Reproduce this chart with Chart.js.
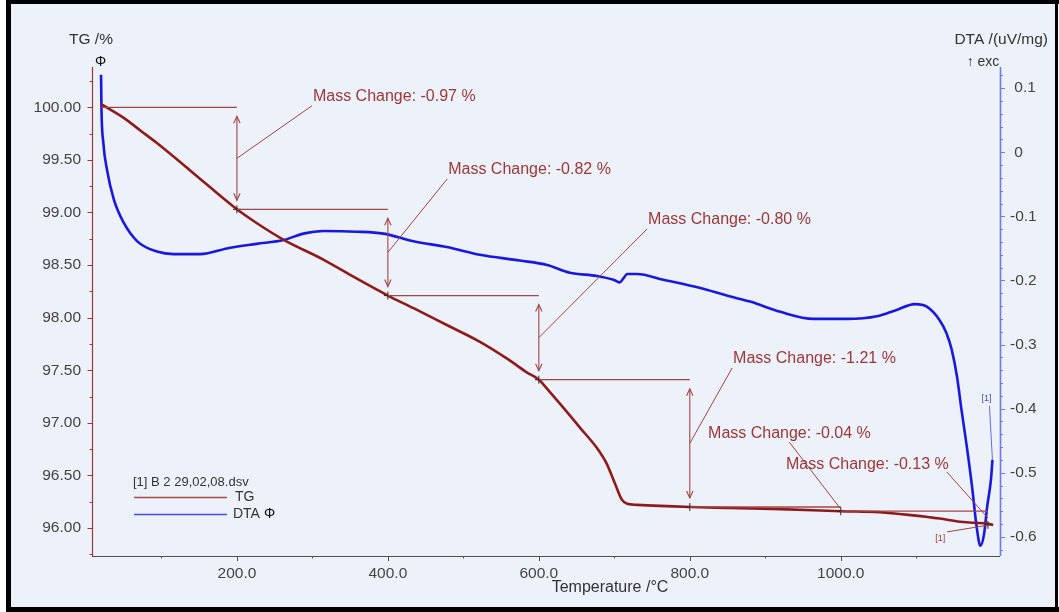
<!DOCTYPE html>
<html><head><meta charset="utf-8">
<script src="https://cdn.jsdelivr.net/npm/chart.js@4.4.1/dist/chart.umd.min.js"></script>
<style>html,body{margin:0;padding:0;background:#fff;overflow:hidden}</style>
</head><body>
<canvas id="c" width="1059" height="612"></canvas>
<script>
// ---- data ----
const tgTemps  = [20, 50, 72, 94, 138, 200, 226, 262, 315, 359, 400, 434, 478, 522, 558, 584, 600, 615, 633, 655, 677, 690, 701, 710, 717, 730, 800, 853, 920, 1000, 1052, 1096, 1131, 1158, 1176, 1195, 1202];
const tgValues = [100.03, 99.90, 99.78, 99.66, 99.40, 99.03, 98.90, 98.74, 98.55, 98.37, 98.21, 98.09, 97.93, 97.77, 97.61, 97.48, 97.41, 97.29, 97.14, 96.95, 96.76, 96.61, 96.42, 96.27, 96.23, 96.22, 96.20, 96.19, 96.18, 96.16, 96.15, 96.12, 96.09, 96.06, 96.05, 96.04, 96.03];

const dtaTemps  = [20, 20.5, 23, 28, 37, 50, 68, 94, 116, 151, 191, 226, 262, 288, 315, 359, 394, 434, 478, 522, 575, 611, 641, 677, 699, 707, 712, 717, 730, 765, 814, 850, 880, 920, 964, 1008, 1048, 1074, 1098, 1114, 1131, 1140, 1147, 1154, 1160, 1167, 1174, 1180, 1185, 1190, 1194, 1199, 1201];
const dtaValues = [0.121, 0.071, 0.015, -0.028, -0.074, -0.110, -0.139, -0.155, -0.159, -0.159, -0.149, -0.143, -0.137, -0.127, -0.123, -0.124, -0.127, -0.139, -0.148, -0.160, -0.169, -0.176, -0.188, -0.193, -0.199, -0.203, -0.197, -0.190, -0.190, -0.199, -0.212, -0.224, -0.233, -0.249, -0.260, -0.260, -0.256, -0.246, -0.237, -0.241, -0.262, -0.282, -0.308, -0.350, -0.402, -0.459, -0.522, -0.584, -0.614, -0.595, -0.553, -0.511, -0.480];

// tick values and labels
const xTickValues   = [200, 400, 600, 800, 1000];
const xTickLabels   = ['200.0', '400.0', '600.0', '800.0', '1000.0'];
const tgTickValues  = [96.0, 96.5, 97.0, 97.5, 98.0, 98.5, 99.0, 99.5, 100.0];
const tgTickLabels  = ['96.00', '96.50', '97.00', '97.50', '98.00', '98.50', '99.00', '99.50', '100.00'];
const dtaTickValues = [-0.6, -0.5, -0.4, -0.3, -0.2, -0.1, 0, 0.1];
const dtaTickLabels = ['-0.6', '-0.5', '-0.4', '-0.3', '-0.2', '-0.1', '0', '0.1'];

// mass-change steps (temperature of each evaluation point and TG level there)
const stepTemps   = [20, 200, 400, 600, 800, 1000, 1195];
const stepLevels  = [100.00, 99.03, 98.21, 97.41, 96.20, 96.16, 96.03];
const massChanges = ['-0.97', '-0.82', '-0.80', '-1.21', '-0.04', '-0.13'];
// label anchors in data coordinates (left edge temperature, TG level of text centre)
const labelTemps  = [300.7, 479.9, 744.8, 857.4, 824.2, 927.5];
const labelLevels = [100.10, 99.404, 98.929, 97.607, 96.901, 96.60];

const FONT = "'Liberation Sans', Arial, sans-serif";
const TG_COLOR = '#8e1b1b';
const DTA_COLOR = '#1818e0';
const ANN_COLOR = '#a14444';
const TEXT_RED = '#9a3838';

function line(ctx, x1, y1, x2, y2, color, w) {
  ctx.beginPath(); ctx.strokeStyle = color; ctx.lineWidth = w;
  ctx.moveTo(x1, y1); ctx.lineTo(x2, y2); ctx.stroke();
}
function arrowHead(ctx, x, y, dir, color) {
  ctx.beginPath(); ctx.strokeStyle = color; ctx.lineWidth = 1.1;
  ctx.moveTo(x - 3.2, y - dir * 7); ctx.lineTo(x, y); ctx.lineTo(x + 3.2, y - dir * 7); ctx.stroke();
}

const deco = {
  id: 'deco',
  beforeDraw(chart) {
    const ctx = chart.ctx, W = chart.width, H = chart.height;
    ctx.save();
    ctx.fillStyle = '#ffffff'; ctx.fillRect(0, 0, W, H);
    ctx.fillStyle = '#edf1fa'; ctx.fillRect(11, 4, 1044, 603);
    ctx.fillStyle = '#000000';
    ctx.fillRect(6, 0, W - 6, 4);
    ctx.fillRect(6, 0, 5, H);
    ctx.fillRect(6, 607, W - 6, 5);
    ctx.fillRect(1055, 0, 3, H);
    ctx.restore();
  },
  afterDatasetsDraw(chart) {
    const ctx = chart.ctx;
    const { left, right, top, bottom } = chart.chartArea;
    const xs = chart.scales.x, yl = chart.scales.yTG, yr = chart.scales.yDTA;
    ctx.save();
    // axes
    line(ctx, left, bottom + 0.5, right, bottom + 0.5, '#505050', 1.2);
    for (let v = 100; v < xs.max - 20; v += 100) {
      const px = Math.round(xs.getPixelForValue(v)) + 0.5;
      line(ctx, px, bottom, px, bottom + (v % 200 === 0 ? 5 : 2.5), '#505050', 1);
    }
    line(ctx, left + 0.5, top, left + 0.5, bottom, '#9a3b3b', 1.2);
    for (let k = Math.ceil(yl.min / 0.25); k * 0.25 <= yl.max + 1e-9; k++) {
      const py = Math.round(yl.getPixelForValue(k * 0.25)) + 0.5;
      line(ctx, left - (k % 2 === 0 ? 4.5 : 2.5), py, left, py, '#9a3b3b', 1);
    }
    line(ctx, right + 0.5, top, right + 0.5, bottom, '#7676e6', 1.6);
    for (let k = Math.ceil(yr.min / 0.02 - 1e-9); k * 0.02 <= yr.max + 1e-9; k++) {
      const py = Math.round(yr.getPixelForValue(k * 0.02)) + 0.5;
      line(ctx, right, py, right + (k % 5 === 0 ? 5 : 3), py, '#7676e6', 1);
    }

    // mass change annotations
    ctx.font = '16px ' + FONT;
    ctx.textBaseline = 'middle';
    ctx.textAlign = 'left';
    const anchorFrac = [0, 0, 0, 0, 0.5, 1];
    for (let i = 0; i < massChanges.length; i++) {
      const xa = xs.getPixelForValue(stepTemps[i]);
      const xb = xs.getPixelForValue(stepTemps[i + 1]);
      const ya = yl.getPixelForValue(stepLevels[i]);
      const yb = yl.getPixelForValue(stepLevels[i + 1]);
      line(ctx, xa, ya, xb, ya, ANN_COLOR, 1.3);
      if (yb - ya > 30) {
        line(ctx, xb, ya + 9, xb, yb - 9, ANN_COLOR, 1.1);
        arrowHead(ctx, xb, ya + 9, -1, ANN_COLOR);
        arrowHead(ctx, xb, yb - 9, 1, ANN_COLOR);
      }
      // cross marker
      line(ctx, xb - 4, yb, xb + 4, yb, '#3a2020', 1);
      line(ctx, xb, yb - 4, xb, yb + 4, '#3a2020', 1);
      const text = 'Mass Change: ' + massChanges[i] + ' %';
      const lx = xs.getPixelForValue(labelTemps[i]);
      const ly = yl.getPixelForValue(labelLevels[i]);
      const w = ctx.measureText(text).width;
      ctx.fillStyle = TEXT_RED;
      ctx.fillText(text, lx, ly);
      const f = anchorFrac[i];
      const ax = lx + f * w + (f === 0 ? -1 : (f === 1 ? -2 : 0));
      const ay = ly + (f === 1 ? 7 : 9);
      line(ctx, ax, ay, xb, (ya + yb) / 2, ANN_COLOR, 1);
    }
    // [1] labels at curve ends
    const tgEndX = xs.getPixelForValue(tgTemps[tgTemps.length - 1]);
    const tgEndY = yl.getPixelForValue(tgValues[tgValues.length - 1]);
    ctx.font = '9px ' + FONT;
    ctx.fillStyle = TEXT_RED;
    ctx.fillText('[1]', tgEndX - 58, tgEndY + 14);
    line(ctx, tgEndX - 46, tgEndY + 7, tgEndX - 3, tgEndY, ANN_COLOR, 1);
    const dEndX = xs.getPixelForValue(dtaTemps[dtaTemps.length - 1]);
    const dEndY = yr.getPixelForValue(dtaValues[dtaValues.length - 1]);
    ctx.fillStyle = '#4a4ad8';
    ctx.fillText('[1]', dEndX - 11, dEndY - 61);
    line(ctx, dEndX - 3, dEndY - 54, dEndX, dEndY, '#6a6ae0', 1);

    // axis titles
    ctx.fillStyle = '#333333';
    ctx.font = '15.5px ' + FONT;
    ctx.textAlign = 'center';
    ctx.fillText('TG /%', 91, 40);
    ctx.textAlign = 'right';
    ctx.fillText('DTA /(uV/mg)', 1048, 40);
    ctx.textAlign = 'center';
    ctx.font = '14px ' + FONT;
    ctx.fillText('\u2191 exc', 983, 62);
    ctx.font = '16px ' + FONT;
    ctx.fillText('Temperature /\u00B0C', 610, 588);
    ctx.font = '14px ' + FONT;
    ctx.fillStyle = '#111';
    ctx.fillText('\u03A6', 100.5, 62);

    // legend
    ctx.textAlign = 'left';
    ctx.fillStyle = '#333333';
    ctx.font = '13px ' + FONT;
    ctx.fillText('[1] B 2 29,02,08.dsv', 133, 482);
    line(ctx, 134, 497.5, 227, 497.5, '#b04a4a', 1.4);
    line(ctx, 134, 514.5, 227, 514.5, '#4b4bd8', 1.4);
    ctx.font = '14px ' + FONT;
    ctx.fillText('TG', 235, 497);
    ctx.fillText('DTA', 233, 514);
    ctx.fillStyle = '#111';
    ctx.fillText('\u03A6', 264, 514);
    ctx.restore();
  }
};

function pickTicks(values) {
  return function (scale) { scale.ticks = values.map(v => ({ value: v })); };
}
function labelFrom(values, labels, prefixNonNeg) {
  return function (v) {
    const i = values.findIndex(t => Math.abs(t - v) < 1e-9);
    if (i < 0) return '';
    return (prefixNonNeg && v >= 0 ? ' ' : '') + labels[i];
  };
}

new Chart(document.getElementById('c'), {
  type: 'line',
  data: {
    datasets: [
      { label: 'TG', yAxisID: 'yTG', data: tgTemps.map((t, i) => ({ x: t, y: tgValues[i] })),
        borderColor: TG_COLOR, borderWidth: 2.6, pointRadius: 0, cubicInterpolationMode: 'monotone', fill: false },
      { label: 'DTA', yAxisID: 'yDTA', data: dtaTemps.map((t, i) => ({ x: t, y: dtaValues[i] })),
        borderColor: DTA_COLOR, borderWidth: 2.6, pointRadius: 0, cubicInterpolationMode: 'monotone', fill: false }
    ]
  },
  options: {
    responsive: false,
    animation: false,
    devicePixelRatio: 1,
    layout: { padding: { top: 67, left: 0, right: 0, bottom: 0 } },
    plugins: { legend: { display: false }, tooltip: { enabled: false } },
    scales: {
      x: {
        type: 'linear', position: 'bottom', min: 8, max: 1211,
        grid: { display: false, drawTicks: false }, border: { display: false },
        afterBuildTicks: pickTicks(xTickValues),
        afterFit: s => { s.height = 56; },
        ticks: { callback: labelFrom(xTickValues, xTickLabels, false), padding: 8,
                 color: '#444', font: { family: FONT, size: 15.5 }, maxRotation: 0, autoSkip: false }
      },
      yTG: {
        type: 'linear', position: 'left', min: 95.734, max: 100.383,
        grid: { display: false, drawTicks: false }, border: { display: false },
        afterBuildTicks: pickTicks(tgTickValues),
        afterFit: s => { s.width = 92; },
        ticks: { callback: labelFrom(tgTickValues, tgTickLabels, false), padding: 11,
                 color: '#444', font: { family: FONT, size: 15.5 }, autoSkip: false }
      },
      yDTA: {
        type: 'linear', position: 'right', min: -0.630, max: 0.133,
        grid: { display: false, drawTicks: false }, border: { display: false },
        afterBuildTicks: pickTicks(dtaTickValues),
        afterFit: s => { s.width = 59; },
        ticks: { callback: labelFrom(dtaTickValues, dtaTickLabels, true), padding: 10,
                 color: '#444', font: { family: FONT, size: 15.5 }, autoSkip: false }
      }
    }
  },
  plugins: [deco]
});
</script>
</body></html>
